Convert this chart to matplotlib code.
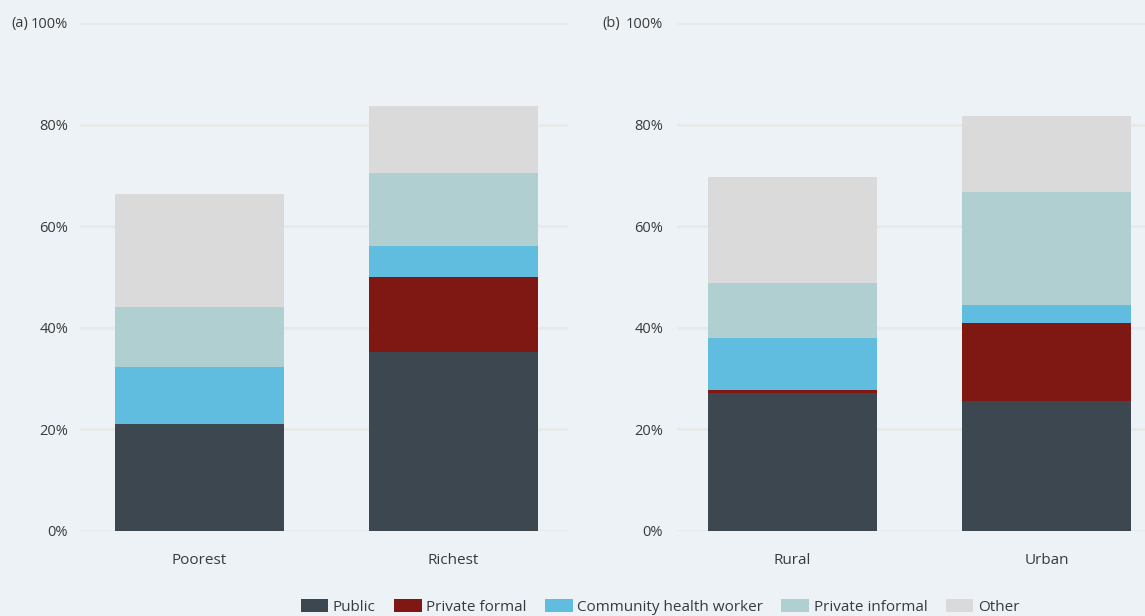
import numpy as np
import matplotlib.pyplot as plt
from matplotlib.patches import Patch

plt.rcParams['font.family'] = ['Open Sans', 'DejaVu Sans']

# data (percent of children)
series = ['Public', 'Private formal', 'Community health worker', 'Private informal', 'Other']
colors = ['#3c4750', '#7f1712', '#61bde0', '#b0cfd1', '#dadada']

cats_a = ['Poorest', 'Richest']
vals_a = [
    [21.0, 35.2],   # Public
    [0.0, 14.8],    # Private formal
    [11.3, 6.1],    # Community health worker
    [11.8, 14.4],   # Private informal
    [22.2, 13.2],   # Other
]

cats_b = ['Rural', 'Urban']
vals_b = [
    [27.2, 25.5],
    [0.6, 15.4],
    [10.2, 3.6],
    [10.8, 22.2],
    [20.9, 15.0],
]

yticks = [0, 20, 40, 60, 80, 100]
bg = '#edf2f6'
grid_col = '#e8e9e8'
text_col = '#3a3a3a'

fig = plt.figure(figsize=(11.45, 6.16), dpi=100, facecolor=bg)

W, H = 1145, 616
ax_a = fig.add_axes([80 / W, 85 / H, 488 / W, 508 / H])
ax_b = fig.add_axes([677 / W, 85 / H, 468 / W, 508 / H])


def draw(ax, cats, vals, xlim, pad, tag, tag_x):
    ax.set_facecolor(bg)
    x = np.arange(len(cats))
    bottom = np.zeros(len(cats))
    for v, c in zip(vals, colors):
        ax.bar(x, v, width=0.665, bottom=bottom, color=c, linewidth=0, zorder=3)
        bottom += np.array(v)
    ax.set_xlim(*xlim)
    ax.set_ylim(0, 100)
    ax.set_yticks(yticks)
    ax.set_yticklabels([f'{t}%' for t in yticks])
    ax.set_xticks(x)
    ax.set_xticklabels(cats)
    ax.tick_params(axis='y', length=0, pad=pad, labelsize=10.5, labelcolor=text_col)
    ax.tick_params(axis='x', length=0, pad=16, labelsize=11, labelcolor=text_col)
    ax.grid(axis='y', color=grid_col, linewidth=2, zorder=0)
    for s in ax.spines.values():
        s.set_visible(False)
    fig.text(tag_x / W, 1 - 23 / H, tag, fontsize=10.5, color=text_col, va='center')


draw(ax_a, cats_a, vals_a, (-0.47, 1.45), 8.6, '(a)', 11)
draw(ax_b, cats_b, vals_b, (-0.455, 1.388), 10, '(b)', 602)

handles = [Patch(facecolor=c, edgecolor='none') for c in colors]
fig.legend(handles, series, loc='center', bbox_to_anchor=(660 / W, 1 - 607 / H), ncol=5,
           frameon=False, fontsize=11, handlelength=1.8, handleheight=0.9,
           handletextpad=0.3, columnspacing=1.2, labelcolor=text_col)

fig.savefig('out.png', dpi=100, facecolor=bg)
